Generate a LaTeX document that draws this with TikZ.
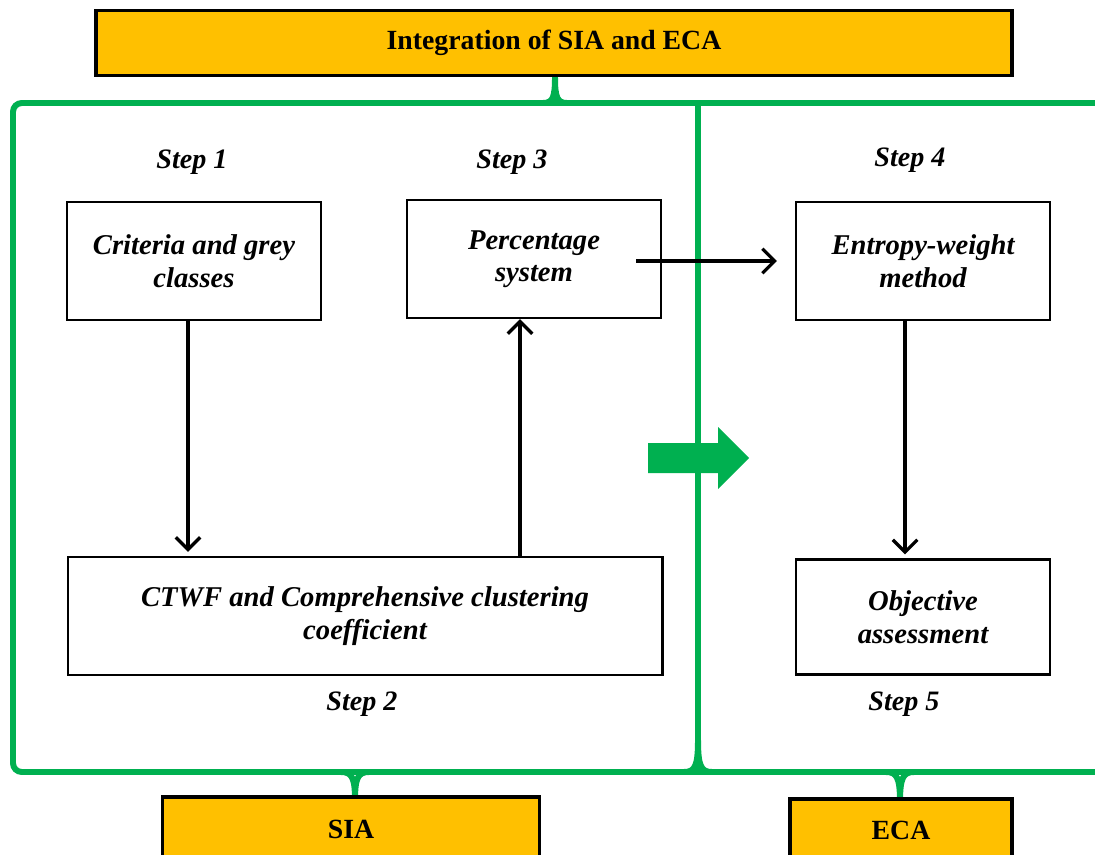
\documentclass[tikz,border=0pt]{standalone}
\usepackage{fontspec}
\setmainfont{Liberation Serif}
\usetikzlibrary{arrows.meta}
\definecolor{sgGold}{HTML}{FFC000}
\definecolor{sgGreen}{HTML}{00B050}
\tikzset{
  stepBox/.style={draw, line width=1.2pt, align=center, minimum width=5.08cm, minimum height=2.36cm,
    font=\fontsize{16.3}{18.5}\selectfont\bfseries\itshape},
  stepLabel/.style={font=\fontsize{16}{18}\selectfont\bfseries\itshape},
  goldBox/.style={draw, fill=sgGold, line width=2.2pt, font=\fontsize{15.8}{18}\selectfont\bfseries},
  flowArrow/.style={line width=1.9pt, -{Straight Barb[length=7pt, width=14pt, line width=1.9pt]}},
  greenLine/.style={sgGreen, line width=3.4pt}
}

\begin{document}
\begin{tikzpicture}[x=0.02cm, y=-0.02cm]
    \useasboundingbox (0,0) rectangle (1095,855);

    % Green brackets
    \draw[greenLine, rounded corners=5pt] (1095,103) -- (13,103) -- (13,772) -- (1095,772);
    \draw[greenLine] (698,103) -- (698,772);
    \draw[greenLine, line join=round] (543,103) .. controls (553,103) and (555,97) .. (555,77)
        .. controls (555,97) and (557,103) .. (567,103);
    \draw[greenLine, line join=round] (684,772) .. controls (695,772) and (698,766) .. (698,740);
    \draw[greenLine, line join=round] (712,772) .. controls (701,772) and (698,766) .. (698,740);

    % Top box
    \node[goldBox, minimum width=18.32cm, minimum height=1.3cm] (top) at (554,43) {Integration of SIA and ECA};

    % SIA part
    \node[stepBox] (crit) at (194,261) {Criteria and grey\\classes};
    \node[stepBox] (perc) at (534,259) {Percentage\\system};
    \node[stepBox, minimum width=11.9cm] (ctwf) at (365,616) {CTWF and Comprehensive clustering\\coefficient};
    \node[stepLabel] (s1) at (192,162) {Step 1};
    \node[stepLabel] (s3) at (512,162) {Step 3};
    \node[stepLabel] (s2) at (362,704) {Step 2};

    % ECA part
    \node[stepBox] (entr) at (923,261) {Entropy-weight\\method};
    \node[stepBox, minimum height=2.3cm] (obj) at (923,617) {Objective\\assessment};
    \node[stepLabel] (s4) at (910,160) {Step 4};
    \node[stepLabel] (s5) at (904,704) {Step 5};

    % Arrows
    \draw[flowArrow] ([xshift=-0.12cm]crit.south) -- ([xshift=-0.12cm, yshift=0.08cm]crit.south |- ctwf.north);
    \draw[flowArrow] ([xshift=-0.28cm]perc.south |- ctwf.north) -- ([xshift=-0.28cm]perc.south);
    \draw[flowArrow] ([xshift=-0.52cm]perc.east |- entr.west) -- ([xshift=-0.36cm]entr.west);
    \draw[flowArrow] ([xshift=-0.36cm]entr.south) -- ([xshift=-0.36cm, yshift=0.08cm]entr.south |- obj.north);

    % Big green arrow
    \fill[sgGreen] (648,443) -- (718,443) -- (718,427) -- (749,458) -- (718,489) -- (718,473) -- (648,473) -- cycle;

    % Bottom boxes
    \draw[greenLine, line join=round] (341,772) .. controls (352,772) and (355,778) .. (355,800)
        .. controls (355,778) and (358,772) .. (369,772);
    \draw[greenLine, line join=round] (886,772) .. controls (897,772) and (900,778) .. (900,802)
        .. controls (900,778) and (903,772) .. (914,772);
    \node[goldBox, minimum width=7.54cm, minimum height=1.28cm] (sia) at (351,829) {SIA};
    \node[goldBox, minimum width=4.44cm, minimum height=1.24cm] (eca) at (901,830) {ECA};
\end{tikzpicture}
\end{document}
